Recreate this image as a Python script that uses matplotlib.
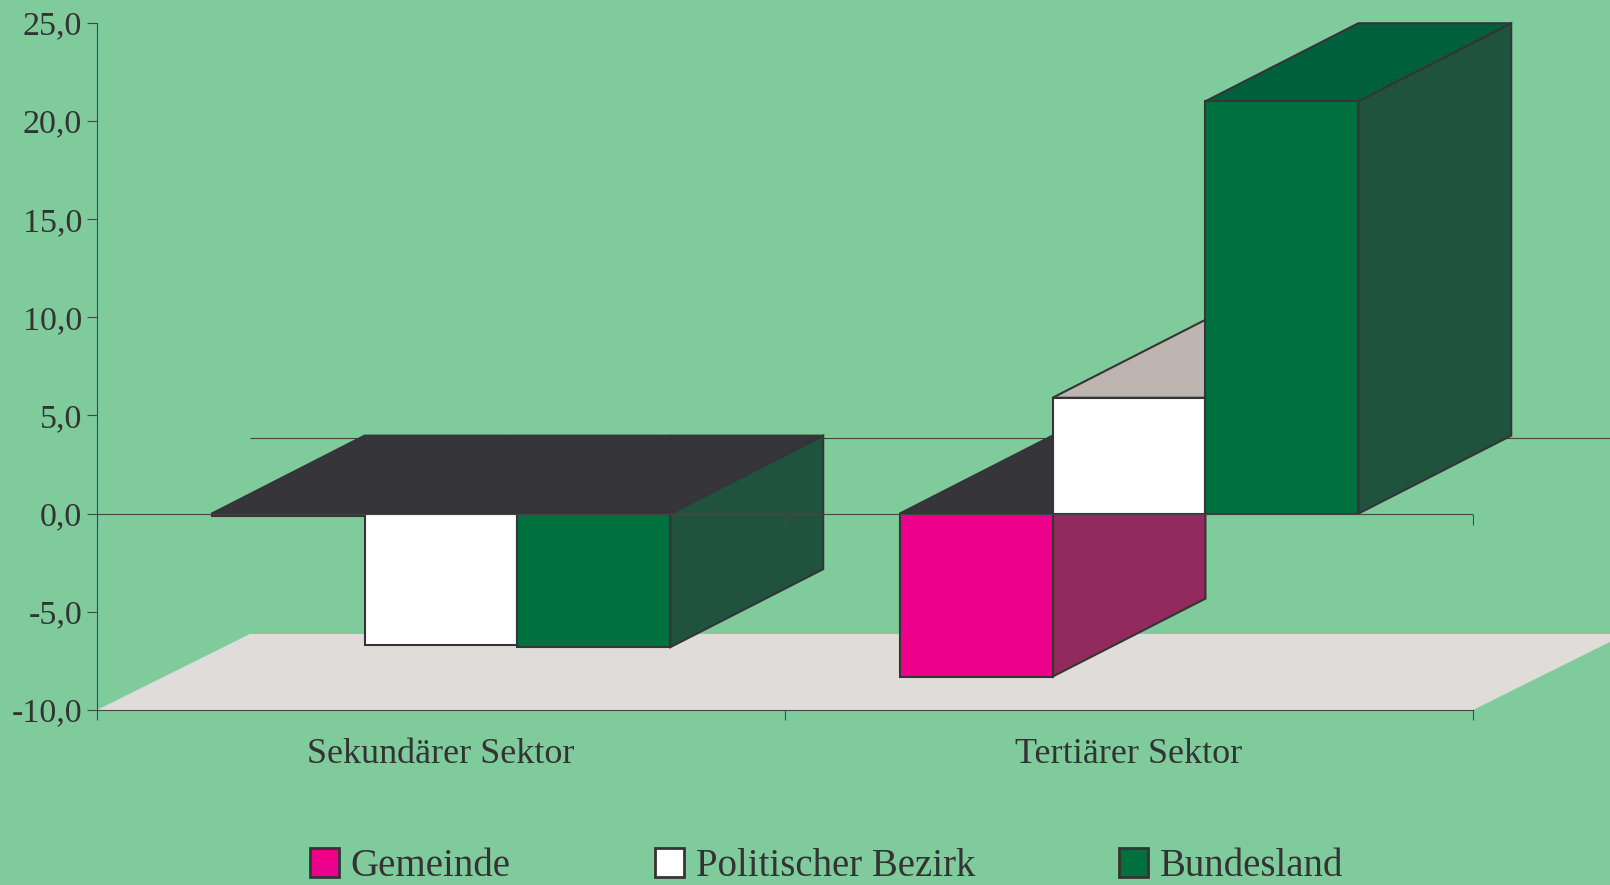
import matplotlib
matplotlib.use("Agg")
import matplotlib.pyplot as plt
from matplotlib.patches import Polygon, Patch

# --- data -------------------------------------------------------------
categories = ["Sekundärer Sektor", "Tertiärer Sektor"]
series_names = ["Gemeinde", "Politischer Bezirk", "Bundesland"]
gemeinde = [-0.1, -8.3]
bezirk = [-6.7, 5.9]
bundesland = [-6.8, 21.0]
y_ticks = [-10, -5, 0, 5, 10, 15, 20, 25]

# --- style --------------------------------------------------------------
front_colors = ["#EC008C", "#FFFFFF", "#00703F"]
side_colors = ["#922A5E", "#C9C2BE", "#1F533E"]
top_colors = ["#B5006C", "#BEB5B0", "#00603E"]
under_color = "#363539"      # zero-level cap of columns that go below zero
bg_color = "#80CB9C"
floor_color = "#E0DCD9"
edge_color = "#353437"
axis_color = "#454545"
text_color = "#333333"

plt.rcParams["font.family"] = ["Liberation Serif", "DejaVu Serif"]

W, H = 1610, 885
fig = plt.figure(figsize=(W / 100, H / 100), dpi=100, facecolor=bg_color)

# plot area (front plane) in pixels
left_px, right_px, top_px, bottom_px = 97, 1473, 22.7, 710
ax = fig.add_axes([left_px / W, 1 - bottom_px / H,
                   (right_px - left_px) / W, (bottom_px - top_px) / H])
ymin, ymax = y_ticks[0], y_ticks[-1]
ax.set_xlim(0, len(categories))
ax.set_ylim(ymin, ymax)
ax.patch.set_visible(False)

# column geometry: gap width 150 %, depth equal to one column width
n_series = len(series_names)
gap = 1.5
bw = 1.0 / (n_series + gap)
dx = bw
px_per_unit = (bottom_px - top_px) / (ymax - ymin)
dy_wall = 76.0 / px_per_unit
dy_bar = 78.0 / px_per_unit

# floor
ax.add_patch(Polygon([(0, ymin), (dx, ymin + dy_wall),
                      (len(categories) + dx, ymin + dy_wall), (len(categories), ymin)],
                     closed=True, facecolor=floor_color, edgecolor="none",
                     zorder=0.5, clip_on=False))
# zero line on the back wall
ax.plot([dx, len(categories) + dx], [dy_wall, dy_wall], color=axis_color, lw=0.8,
        zorder=1, clip_on=False, solid_capstyle="butt")

series = [gemeinde, bezirk, bundesland]
z = 2
for ci in range(len(categories)):
    for si, vals in enumerate(series):
        v = vals[ci]
        x0 = ci + gap / 2 * bw + si * bw
        x1 = x0 + bw
        ty = max(v, 0)
        front = [(x0, 0), (x1, 0), (x1, v), (x0, v)]
        side = [(x1, 0), (x1 + dx, dy_bar), (x1 + dx, v + dy_bar), (x1, v)]
        top = [(x0, ty), (x0 + dx, ty + dy_bar), (x1 + dx, ty + dy_bar), (x1, ty)]
        top_fc = top_colors[si] if v > 0 else under_color
        faces = []
        # a side face is skipped when the neighbouring column hides it completely
        hidden = False
        if si + 1 < len(series):
            nv = series[si + 1][ci]
            hidden = min(0, nv) <= min(0, v) and max(0, nv) >= max(0, v)
        if not hidden:
            faces.append((side, side_colors[si]))
        faces += [(top, top_fc), (front, front_colors[si])]
        for pts, fc in faces:
            ax.add_patch(Polygon(pts, closed=True, facecolor=fc,
                                 edgecolor=edge_color, lw=1.5,
                                 joinstyle="miter", zorder=z, clip_on=False))
        z += 1

# category axis at zero with tick marks
ax.plot(range(len(categories) + 1), [0] * (len(categories) + 1),
        color=axis_color, lw=0.8, marker=3, ms=8, mew=0.8, zorder=50,
        solid_capstyle="butt")

# spines and ticks
for s in ("top", "right"):
    ax.spines[s].set_visible(False)
for s in ("left", "bottom"):
    ax.spines[s].set_color(axis_color)
    ax.spines[s].set_linewidth(0.8)
    ax.spines[s].set_zorder(40)

ax.set_yticks(y_ticks, labels=[f"{t:.1f}".replace(".", ",") for t in y_ticks])
ax.tick_params(axis="y", direction="out", length=7.4, width=0.8,
               color=axis_color, labelsize=24.5, labelcolor=text_color, pad=3.4)
ax.set_xticks(range(len(categories) + 1), labels=[])
ax.set_xticks([c + 0.5 for c in range(len(categories))], labels=categories, minor=True)
ax.tick_params(axis="x", which="major", direction="out", length=7.4, width=0.8,
               color=axis_color)
ax.tick_params(axis="x", which="minor", length=0, labelsize=26,
               labelcolor=text_color, pad=20)

# legend
handles = [Patch(facecolor=c, edgecolor=edge_color, linewidth=2) for c in front_colors]
fig.legend(handles, series_names, loc="lower left", bbox_to_anchor=(310 / W, 0.0),
           frameon=False, ncol=3, fontsize=28, handlelength=0.75, handleheight=0.75,
           handletextpad=0.3, columnspacing=3.7, borderpad=0, borderaxespad=0,
           labelcolor=text_color)

fig.savefig("out.png", dpi=100, facecolor=bg_color)
